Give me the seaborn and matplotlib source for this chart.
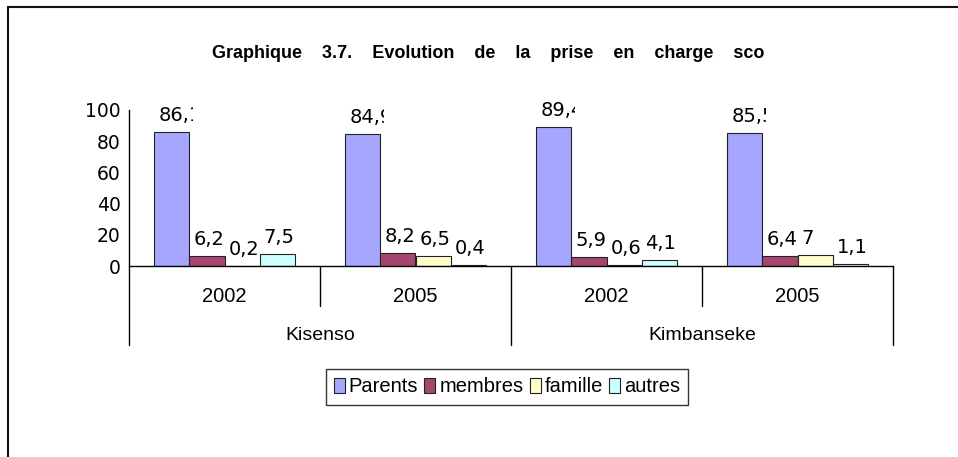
import pandas as pd
import matplotlib
matplotlib.use('Agg')
import matplotlib.pyplot as plt
import seaborn as sns
from matplotlib.lines import Line2D
from matplotlib.transforms import Bbox, TransformedBbox, blended_transform_factory

# Données
groupes = ['Kisenso-2002', 'Kisenso-2005', 'Kimbanseke-2002', 'Kimbanseke-2005']
annees = ['2002', '2005', '2002', '2005']
communes = ['Kisenso', 'Kimbanseke']
categories = ['Parents', 'membres', 'famille', 'autres']
parents = [86.1, 84.9, 89.4, 85.5]
membres = [6.2, 8.2, 5.9, 6.4]
famille = [0.2, 6.5, 0.6, 7.0]
autres = [7.5, 0.4, 4.1, 1.1]
couleurs = ['#A6A6FF', '#A5466F', '#FFFFCC', '#CCFFFF']

valeurs = [parents, membres, famille, autres]
rows = []
for cat, vals in zip(categories, valeurs):
    for g, v in zip(groupes, vals):
        rows.append({'groupe': g, 'categorie': cat, 'valeur': v})
df = pd.DataFrame(rows)

sns.set_style('white')
plt.rcParams['font.family'] = ['DejaVu Sans']
for k in ['text.color', 'xtick.color', 'ytick.color', 'axes.labelcolor', 'axes.edgecolor']:
    plt.rcParams[k] = 'black'

fig = plt.figure(figsize=(9.58, 4.57), dpi=100)
ax = fig.add_axes([129 / 958, 1 - 266 / 457, 764 / 958, 156 / 457])

sns.barplot(data=df, x='groupe', y='valeur', hue='categorie', order=groupes,
            hue_order=categories, palette=couleurs, width=0.733, saturation=1,
            edgecolor='#222222', linewidth=0.8, ax=ax)

ax.set_xlim(-0.5, 3.5)
ax.set_ylim(0, 100)
ax.set_yticks([0, 20, 40, 60, 80, 100])
ax.set_xticks([])
ax.set_xlabel('')
ax.set_ylabel('')
for s in ['top', 'right']:
    ax.spines[s].set_visible(False)
for s in ['left', 'bottom']:
    ax.spines[s].set_color('black')
    ax.spines[s].set_linewidth(1)
ax.tick_params(axis='y', direction='out', length=4, width=1, color='black',
               pad=2, labelsize=13.5)

# étiquettes de valeurs (coupées à droite comme dans l'original)
bt = blended_transform_factory(ax.transData, fig.transFigure)
for cont, vals in zip(ax.containers, valeurs):
    for bar, v in zip(cont, vals):
        x0 = bar.get_x()
        x1 = x0 + bar.get_width() + 0.016
        txt = ax.annotate(f'{v:g}'.replace('.', ','), xy=(x0, v),
                          xytext=(4, 11), textcoords='offset pixels',
                          ha='left', va='baseline', fontsize=14)
        txt.set_clip_on(True)
        txt.set_clip_box(TransformedBbox(Bbox([[x0 - 0.1, 0], [x1, 1]]), bt))

# axe des catégories à deux niveaux
sans = ['Liberation Sans', 'DejaVu Sans']
y_axe = 1 - 266 / 457
for xb in [-0.5, 1.5, 3.5]:
    ax.add_line(Line2D([xb, xb], [y_axe, 1 - 345 / 457], transform=bt,
                       color='black', lw=1, clip_on=False))
for xb in [0.5, 2.5]:
    ax.add_line(Line2D([xb, xb], [y_axe, 1 - 306 / 457], transform=bt,
                       color='black', lw=1, clip_on=False))
for i, a in enumerate(annees):
    ax.text(i, 1 - 297 / 457, a, transform=bt, ha='center', va='center',
            fontsize=14.5, family=sans)
for i, c in enumerate(communes):
    ax.text(2 * i + 0.5, 1 - 336 / 457, c, transform=bt, ha='center',
            va='center', fontsize=14, family=sans)

# légende
handles, labels = ax.get_legend_handles_labels()
leg = ax.legend(handles, labels, loc='center', ncol=4,
                bbox_to_anchor=(507 / 958, 1 - 387 / 457),
                bbox_transform=fig.transFigure, frameon=True, fancybox=False,
                edgecolor='black', handlelength=0.55, handleheight=0.75,
                handletextpad=0.2, columnspacing=0.3, borderpad=0.4,
                prop={'family': sans, 'size': 14.5})
leg.get_frame().set_linewidth(1)

# titre
mots = ['Graphique', '3.7.', 'Evolution', 'de', 'la', 'prise', 'en', 'charge', 'sco']
fig.text(488 / 958, 1 - 53 / 457, '    '.join(mots), ha='center', va='center',
         fontsize=13, fontweight='bold', family=sans)

# cadre
fig.add_artist(Line2D([8 / 958, 8 / 958], [0, 1 - 7 / 457], color='#111111', lw=1.5))
fig.add_artist(Line2D([8 / 958, 1], [1 - 7 / 457, 1 - 7 / 457], color='#111111', lw=1.5))

fig.savefig('out.png', dpi=100, facecolor='white')
